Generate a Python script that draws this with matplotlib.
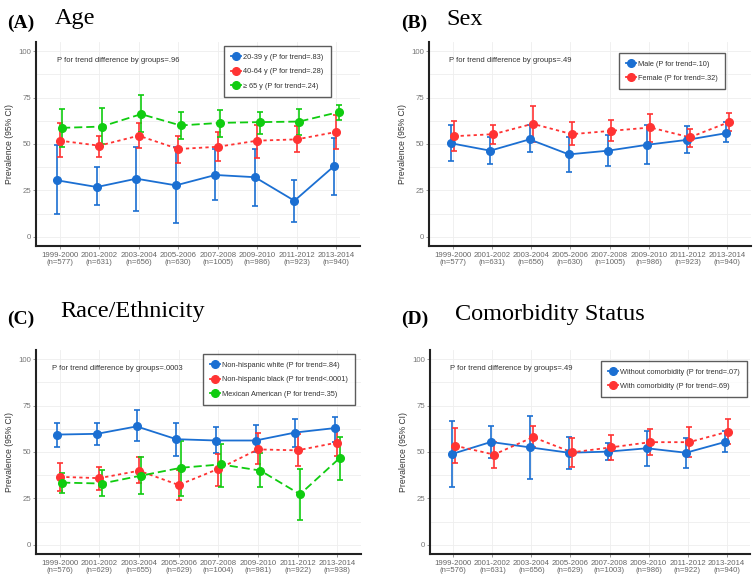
import matplotlib
matplotlib.use('Agg')
import matplotlib.pyplot as plt
from matplotlib.lines import Line2D

# Data
YEARS = ['1999-2000', '2001-2002', '2003-2004', '2005-2006',
         '2007-2008', '2009-2010', '2011-2012', '2013-2014']
N_AGE = [577, 631, 656, 630, 1005, 986, 923, 940]
N_SEX = [577, 631, 656, 630, 1005, 986, 923, 940]
N_RACE = [576, 629, 655, 629, 1004, 981, 922, 938]
N_COMORB = [576, 631, 656, 629, 1003, 986, 922, 940]

# (A) Age
age_20_39 = [30.4, 26.8, 31.3, 27.7, 33.3, 32.1, 19.4, 38.0]
age_20_39_lo = [12.3, 17.2, 14.1, 7.4, 19.6, 16.5, 7.8, 22.6]
age_20_39_hi = [49.3, 37.7, 48.4, 48.2, 47.1, 47.5, 30.8, 53.4]
age_40_64 = [51.8, 49.1, 54.5, 47.3, 48.5, 51.8, 52.5, 56.5]
age_40_64_lo = [42.8, 43.1, 47.6, 40.0, 40.8, 42.6, 45.7, 47.1]
age_40_64_hi = [61.2, 54.5, 61.2, 54.5, 56.3, 60.5, 59.6, 65.9]
age_65 = [58.7, 59.4, 66.1, 60.0, 61.4, 61.8, 62.1, 67.2]
age_65_lo = [48.4, 50.2, 56.7, 52.7, 54.0, 55.3, 54.9, 63.0]
age_65_hi = [68.7, 69.4, 76.6, 67.2, 68.5, 67.2, 68.8, 71.2]

# (B) Sex
male = [50.4, 46.4, 52.5, 44.4, 46.4, 49.6, 52.2, 55.8]
male_lo = [40.8, 39.3, 45.8, 35.1, 37.9, 39.3, 44.9, 51.1]
male_hi = [60.1, 54.0, 60.0, 54.0, 55.1, 60.5, 59.6, 61.6]
female = [54.2, 55.3, 60.9, 55.3, 57.1, 58.9, 53.6, 61.8]
female_lo = [46.0, 50.2, 51.3, 49.3, 51.4, 51.1, 48.6, 57.1]
female_hi = [62.3, 60.1, 70.5, 61.6, 62.9, 66.3, 58.3, 66.5]

# (C) Race/Ethnicity
nh_white = [59.4, 59.8, 63.8, 56.9, 56.2, 56.2, 60.5, 62.9]
nh_white_lo = [52.9, 53.8, 55.8, 47.8, 49.3, 50.2, 52.9, 55.6]
nh_white_hi = [65.9, 65.4, 72.5, 65.8, 63.4, 64.7, 67.8, 68.8]
nh_black = [36.6, 35.9, 39.9, 32.2, 40.9, 51.4, 50.9, 55.1]
nh_black_lo = [28.8, 29.7, 33.3, 23.9, 31.9, 43.6, 42.7, 47.8]
nh_black_hi = [43.8, 41.7, 47.1, 40.2, 49.1, 60.5, 59.5, 62.0]
mexican = [33.5, 33.0, 37.3, 41.5, 43.3, 40.0, 27.2, 46.7]
mexican_lo = [27.9, 26.1, 27.5, 26.3, 31.2, 31.2, 13.6, 35.1]
mexican_hi = [38.8, 40.2, 47.5, 56.2, 54.3, 49.3, 40.8, 58.2]

# (D) Comorbidity status
without_cm = [48.9, 55.4, 52.5, 49.6, 50.2, 52.0, 49.6, 55.4]
without_cm_lo = [31.2, 46.7, 35.7, 40.6, 45.7, 42.6, 41.3, 49.8]
without_cm_hi = [66.7, 64.1, 69.2, 58.2, 55.1, 61.4, 57.6, 61.4]
with_cm = [53.4, 48.6, 58.0, 49.8, 52.5, 55.3, 55.3, 61.0]
with_cm_lo = [44.2, 41.3, 52.9, 42.0, 45.7, 48.6, 47.5, 54.3]
with_cm_hi = [63.0, 55.6, 64.1, 57.8, 59.2, 62.3, 63.4, 67.8]

BLUE = '#1B6FD2'
RED = '#FF3333'
GREEN = '#10CC10'
DOTTED = (0, (1.8, 1.8))
DASHED = (0, (4.5, 2.2))

W, H = 756, 574
fig = plt.figure(figsize=(W / 100, H / 100), dpi=100)
plt.rcParams['font.family'] = ['Liberation Sans', 'DejaVu Sans']


def px_axes(left, top, right, bottom):
    return fig.add_axes([left / W, 1 - bottom / H, (right - left) / W, (bottom - top) / H])


def draw_panel(ax, series, ns, ptext, ptext_x, leg_anchor):
    x = list(range(1, len(YEARS) + 1))
    k = len(series)
    offsets = [-0.06, 0.0, 0.06] if k == 3 else [-0.04, 0.04]
    handles = []
    for (label, vals, lo, hi, color, ls), off in zip(series, offsets):
        xs = [xi + off for xi in x]
        err = [[v - l for v, l in zip(vals, lo)], [h - v for v, h in zip(vals, hi)]]
        ax.errorbar(xs, vals, yerr=err, fmt='none', ecolor=color, elinewidth=1.2,
                    capsize=2.4, capthick=1.2, zorder=3)
        ax.plot(xs, vals, color=color, lw=1.3, ls=ls, zorder=4)
        ax.plot(xs, vals, 'o', color=color, ms=5.5, zorder=5)
        handles.append(Line2D([0], [0], color=color, lw=1.3, marker='o', ms=5.5, label=label))

    ax.set_xlim(0.4, 8.6)
    ax.set_ylim(-5, 105)
    ax.set_xticks(x)
    ax.set_xticklabels([f'{y}\n(n={n})' for y, n in zip(YEARS, ns)], fontsize=5.6,
                       color='#666666', linespacing=1.0)
    ax.set_yticks([0, 25, 50, 75, 100])
    ax.set_yticks([12.5, 37.5, 62.5, 87.5], minor=True)
    ax.tick_params(axis='y', which='major', labelsize=5.6, labelcolor='#777777',
                   color='#888888', length=2, width=0.6, pad=1.5)
    ax.tick_params(axis='x', which='major', color='#888888', length=2, width=0.6, pad=2)
    ax.tick_params(which='minor', length=0)
    ax.grid(True, which='both', color='#EEEEEE', lw=0.6)
    ax.set_axisbelow(True)
    for s in ['top', 'right']:
        ax.spines[s].set_visible(False)
    for s in ['left', 'bottom']:
        ax.spines[s].set_color('#222222')
        ax.spines[s].set_linewidth(1.5)
    ax.set_ylabel('Prevalence (95% CI)', fontsize=6.2, color='#333333', labelpad=3)
    ax.text(ptext_x, 95, ptext, fontsize=5.5, color='#333333', va='center', ha='left')
    leg = ax.legend(handles=handles, loc='upper left', bbox_to_anchor=leg_anchor,
                    fontsize=5.3, frameon=True, fancybox=False, edgecolor='#333333',
                    handlelength=1.3, handletextpad=0.3, borderpad=1.0, labelspacing=1.0,
                    borderaxespad=0)
    leg.get_frame().set_linewidth(1.0)
    for t in leg.get_texts():
        t.set_color('#333333')


axA = px_axes(36, 42, 360, 246)
draw_panel(axA, [
    ('20-39 y (P for trend=.83)', age_20_39, age_20_39_lo, age_20_39_hi, BLUE, '-'),
    ('40-64 y (P for trend=.28)', age_40_64, age_40_64_lo, age_40_64_hi, RED, DOTTED),
    ('\u2265 65 y (P for trend=.24)', age_65, age_65_lo, age_65_hi, GREEN, DASHED),
], N_AGE, 'P for trend difference by groups=.96', 0.92, (0.58, 0.98))

axB = px_axes(429, 42, 751, 246)
draw_panel(axB, [
    ('Male (P for trend=.10)', male, male_lo, male_hi, BLUE, '-'),
    ('Female (P for trend=.32)', female, female_lo, female_hi, RED, DOTTED),
], N_SEX, 'P for trend difference by groups=.49', 0.92, (0.59, 0.946))

axC = px_axes(36, 350, 361, 554)
draw_panel(axC, [
    ('Non-hispanic white (P for trend=.84)', nh_white, nh_white_lo, nh_white_hi, BLUE, '-'),
    ('Non-hispanic black (P for trend<.0001)', nh_black, nh_black_lo, nh_black_hi, RED, DOTTED),
    ('Mexican American (P for trend=.35)', mexican, mexican_lo, mexican_hi, GREEN, DASHED),
], N_RACE, 'P for trend difference by groups=.0003', 0.8, (0.514, 0.98))

axD = px_axes(430, 350, 750, 554)
draw_panel(axD, [
    ('Without comorbidity (P for trend=.07)', without_cm, without_cm_lo, without_cm_hi, BLUE, '-'),
    ('With comorbidity (P for trend=.69)', with_cm, with_cm_lo, with_cm_hi, RED, DOTTED),
], N_COMORB, 'P for trend difference by groups=.49', 0.92, (0.534, 0.946))

# Panel titles
serif = ['Liberation Serif', 'DejaVu Serif']
titles = [
    ('(A)', 7, 28, 'Age', 55, 24),
    ('(B)', 401, 28, 'Sex', 446, 25),
    ('(C)', 7, 324, 'Race/Ethnicity', 60, 317),
    ('(D)', 401, 324, 'Comorbidity Status', 455, 320),
]
for tag, tx, ty, name, nx, ny in titles:
    fig.text(tx / W, 1 - ty / H, tag, fontsize=14, fontweight='bold', family=serif,
             va='baseline', ha='left')
    fig.text(nx / W, 1 - ny / H, name, fontsize=17.5, family=serif, va='baseline', ha='left')

fig.savefig('out.png', dpi=100)
